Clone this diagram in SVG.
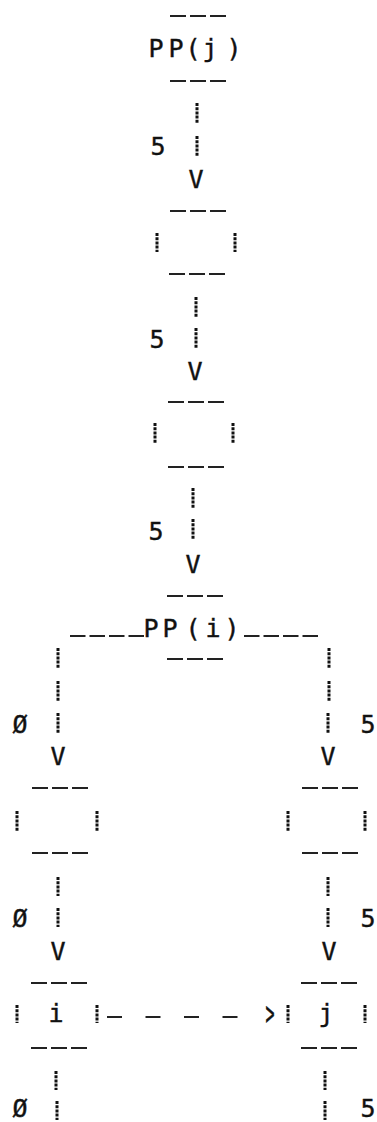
<svg xmlns="http://www.w3.org/2000/svg" width="377" height="1122" viewBox="0 0 377 1122">
<style>
.bg{fill:#ffffff}
.t{font-family:"DejaVu Sans Mono","Liberation Mono",monospace;font-size:25px;fill:#111;stroke:#111;stroke-width:0.4;text-anchor:middle}
.d3{stroke:#222;stroke-width:2;stroke-dasharray:16 4;fill:none}
.d4{stroke:#222;stroke-width:2;stroke-dasharray:15.5 4;fill:none}
.bar{stroke:#111;stroke-width:3;stroke-dasharray:3 1.2;fill:none}
.hd{stroke:#222;stroke-width:2;stroke-dasharray:15 23.5;fill:none}
</style>
<rect class="bg" x="0" y="0" width="377" height="1122"/>

<g id="node-ppj">
  <line class="d3" x1="170" y1="16" x2="226" y2="16"/>
  <text class="t" x="156 176 193 210 234" y="57">PP(j)</text>
  <line class="d3" x1="170" y1="81" x2="226" y2="81"/>
</g>

<g id="node-box1">
  <line class="d3" x1="170" y1="211" x2="226" y2="211"/>
  <path class="bar" d="M157,233 V252 M235,233 V252"/>
  <line class="d3" x1="169" y1="274" x2="225" y2="274"/>
</g>

<g id="node-box2">
  <line class="d3" x1="168" y1="402" x2="224" y2="402"/>
  <path class="bar" d="M155,423 V443 M233,423 V443"/>
  <line class="d3" x1="168" y1="467" x2="224" y2="467"/>
</g>

<g id="node-ppi">
  <line class="d3" x1="167" y1="596" x2="223" y2="596"/>
  <text class="t" x="151 170 193 213 232" y="637">PP(i)</text>
  <line class="d3" x1="167" y1="659" x2="223" y2="659"/>
</g>

<g id="node-left1">
  <line class="d3" x1="32" y1="788" x2="88" y2="788"/>
  <path class="bar" d="M17,811 V831 M97,811 V831"/>
  <line class="d3" x1="32" y1="853" x2="88" y2="853"/>
</g>

<g id="node-right1">
  <line class="d3" x1="302" y1="788" x2="358" y2="788"/>
  <path class="bar" d="M288,811 V831 M365,811 V831"/>
  <line class="d3" x1="302" y1="853" x2="358" y2="853"/>
</g>

<g id="node-left-i">
  <line class="d3" x1="31" y1="983" x2="87" y2="983"/>
  <path class="bar" d="M17,1005 V1023 M97,1005 V1023"/>
  <text class="t" x="56" y="1022">i</text>
  <line class="d3" x1="31" y1="1048" x2="87" y2="1048"/>
</g>

<g id="node-right-j">
  <line class="d3" x1="301" y1="983" x2="357" y2="983"/>
  <path class="bar" d="M288,1005 V1023 M365,1005 V1023"/>
  <text class="t" x="326" y="1022">j</text>
  <line class="d3" x1="301" y1="1048" x2="357" y2="1048"/>
</g>

<g id="connectors">
  <!-- PP(j) to box1 -->
  <path class="bar" d="M197,103 V123 M197,136 V156"/>
  <text class="t" x="158" y="155">5</text>
  <text class="t" x="196" y="188">V</text>
  <!-- box1 to box2 -->
  <path class="bar" d="M196,297 V317 M196,328 V348"/>
  <text class="t" x="157" y="348">5</text>
  <text class="t" x="195" y="380">V</text>
  <!-- box2 to PP(i) -->
  <path class="bar" d="M193,488 V509 M193,519 V540"/>
  <text class="t" x="156" y="540">5</text>
  <text class="t" x="193" y="573">V</text>
  <!-- PP(i) branches -->
  <line class="d4" x1="70" y1="636" x2="144" y2="636"/>
  <line class="d4" x1="244" y1="636" x2="318" y2="636"/>
  <path class="bar" d="M58,648 V668 M58,681 V701 M58,713 V733"/>
  <text class="t" x="20" y="733">Ø</text>
  <text class="t" x="58" y="765">V</text>
  <path class="bar" d="M329,648 V668 M329,681 V701 M328,713 V733"/>
  <text class="t" x="368" y="733">5</text>
  <text class="t" x="328" y="765">V</text>
  <!-- left1 to left-i -->
  <path class="bar" d="M58,877 V896 M58,908 V927"/>
  <text class="t" x="20" y="927">Ø</text>
  <text class="t" x="58" y="960">V</text>
  <!-- right1 to right-j -->
  <path class="bar" d="M328,877 V896 M328,908 V927"/>
  <text class="t" x="368" y="927">5</text>
  <text class="t" x="329" y="960">V</text>
  <!-- i to j -->
  <line class="hd" x1="107" y1="1017" x2="238" y2="1017"/>
  <text class="t" transform="translate(270,1025) scale(0.6,1.35)" x="0" y="0">&gt;</text>
  <!-- below left-i / right-j -->
  <path class="bar" d="M56,1071 V1090 M57,1101 V1120"/>
  <text class="t" x="20" y="1117">Ø</text>
  <path class="bar" d="M325,1071 V1090 M325,1101 V1120"/>
  <text class="t" x="368" y="1117">5</text>
</g>
</svg>
